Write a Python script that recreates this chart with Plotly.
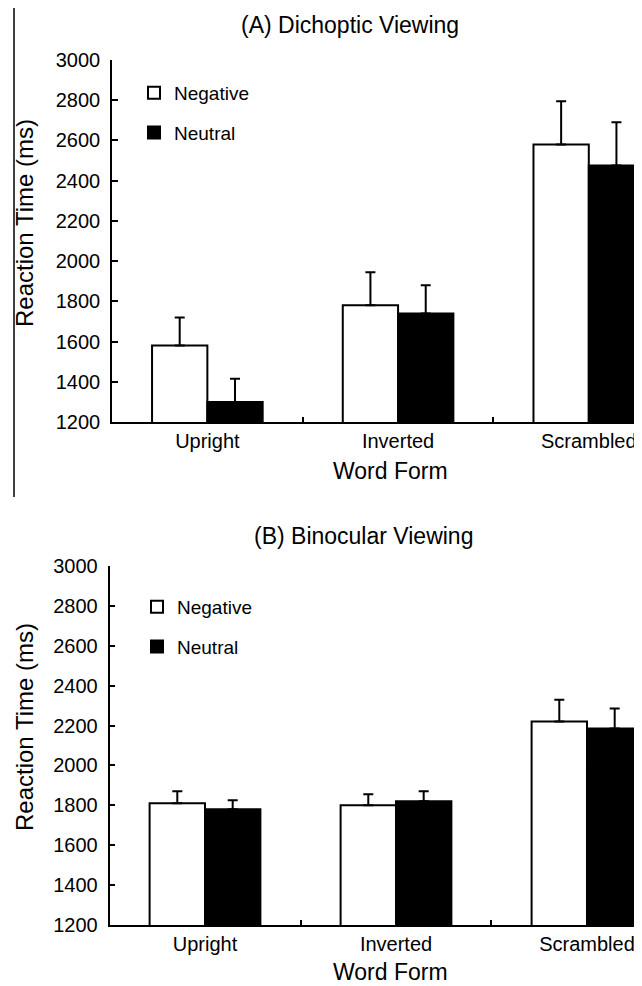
import plotly.graph_objects as go

# ---- data ----
categories = ["Upright", "Inverted", "Scrambled"]
series_names = ["Negative", "Neutral"]

dichoptic_negative = [1580, 1780, 2580]
dichoptic_negative_err = [140, 165, 215]
dichoptic_neutral = [1300, 1740, 2475]
dichoptic_neutral_err = [115, 140, 215]

binocular_negative = [1810, 1800, 2220]
binocular_negative_err = [60, 55, 110]
binocular_neutral = [1780, 1820, 2185]
binocular_neutral_err = [45, 50, 100]

y_ticks = [1200, 1400, 1600, 1800, 2000, 2200, 2400, 2600, 2800, 3000]
panel_titles = ["(A) Dichoptic Viewing", "(B) Binocular Viewing"]
x_title = "Word Form"
y_title = "Reaction Time (ms)"

# page body has an 8px margin, so the figure is drawn 8px in from the window corner
OFF = 8
W, H = 642 - OFF, 986 - OFF
FONT = "Liberation Sans, Arial, sans-serif"


def px(x):
    return (x - OFF) / W


def py(y):
    return 1 - (y - OFF) / H


fig = go.Figure()

panels = [
    (dichoptic_negative, dichoptic_negative_err, dichoptic_neutral, dichoptic_neutral_err, "x", "y", "legend"),
    (binocular_negative, binocular_negative_err, binocular_neutral, binocular_neutral_err, "x2", "y2", "legend2"),
]

for neg, neg_err, neu, neu_err, xa, ya, lg in panels:
    fig.add_trace(go.Bar(
        x=categories, y=neg, name=series_names[0],
        marker=dict(color="white", line=dict(color="black", width=2)),
        error_y=dict(type="data", array=neg_err, arrayminus=[0] * len(neg_err), symmetric=False,
                     color="black", thickness=2, width=5),
        xaxis=xa, yaxis=ya, legend=lg, legendgroup=lg + "neg",
    ))
    fig.add_trace(go.Bar(
        x=categories, y=neu, name=series_names[1],
        marker=dict(color="black", line=dict(color="black", width=2)),
        error_y=dict(type="data", array=neu_err, arrayminus=[0] * len(neu_err), symmetric=False,
                     color="black", thickness=2, width=5),
        xaxis=xa, yaxis=ya, legend=lg, legendgroup=lg + "neu",
    ))

xaxis_common = dict(
    type="category", showline=True, linecolor="black", linewidth=1.5,
    ticks="inside", tickson="boundaries", ticklen=5, tickcolor="black", tickwidth=1.5,
    tickfont=dict(size=20, color="black", family=FONT),
    showgrid=False, zeroline=False, automargin=False,
)
yaxis_common = dict(
    range=[1200, 3000], tickvals=y_ticks, showline=True, linecolor="black", linewidth=1.5,
    ticks="inside", ticklen=6, tickcolor="black", tickwidth=1.5,
    tickfont=dict(size=20, color="black", family=FONT), ticklabelstandoff=6,
    showgrid=False, zeroline=False, automargin=False,
)

title_font = dict(size=23, color="black", family=FONT)
x_title_font = dict(size=23, color="black", family=FONT)
y_title_font = dict(size=24, color="black", family=FONT)

annotations = [
    dict(text=panel_titles[0], x=px(350), y=py(25)),
    dict(text=panel_titles[1], x=px(364), y=py(536)),
]
for a in annotations:
    a.update(xref="paper", yref="paper", showarrow=False, xanchor="center", yanchor="middle",
             font=title_font)

for xc, yc in [(390, 471), (390, 972)]:
    annotations.append(dict(text=x_title, x=px(xc), y=py(yc), xref="paper", yref="paper",
                            showarrow=False, xanchor="center", yanchor="middle",
                            font=x_title_font))
for yc in [223, 727]:
    annotations.append(dict(text=y_title, x=px(24), y=py(yc), xref="paper", yref="paper",
                            showarrow=False, xanchor="center", yanchor="middle", textangle=-90,
                            font=y_title_font))

fig.update_layout(
    width=W, height=H, autosize=False,
    margin=dict(l=0, r=0, t=0, b=0),
    paper_bgcolor="white", plot_bgcolor="white",
    barmode="group", bargap=0.42, bargroupgap=0,
    font=dict(family=FONT, color="black"),
    xaxis=dict(xaxis_common, domain=[px(112), 1], range=[-0.5, 2.279], anchor="y"),
    yaxis=dict(yaxis_common, domain=[py(422), py(60)], anchor="x"),
    xaxis2=dict(xaxis_common, domain=[px(109.5), 1], range=[-0.5, 2.288], anchor="y2"),
    yaxis2=dict(yaxis_common, domain=[py(925), py(566)], anchor="x2"),
    legend=dict(x=px(134), y=py(74), xanchor="left", yanchor="top",
                font=dict(size=19, color="black", family=FONT),
                bgcolor="rgba(0,0,0,0)", tracegroupgap=12, traceorder="grouped"),
    legend2=dict(x=px(137), y=py(588), xanchor="left", yanchor="top",
                 font=dict(size=19, color="black", family=FONT),
                 bgcolor="rgba(0,0,0,0)", tracegroupgap=12, traceorder="grouped"),
    annotations=annotations,
    shapes=[
        dict(type="line", xref="paper", yref="paper", x0=px(14), x1=px(14), y0=py(497), y1=1,
             line=dict(color="black", width=1.5)),
    ],
)

fig.write_html("out.html")
